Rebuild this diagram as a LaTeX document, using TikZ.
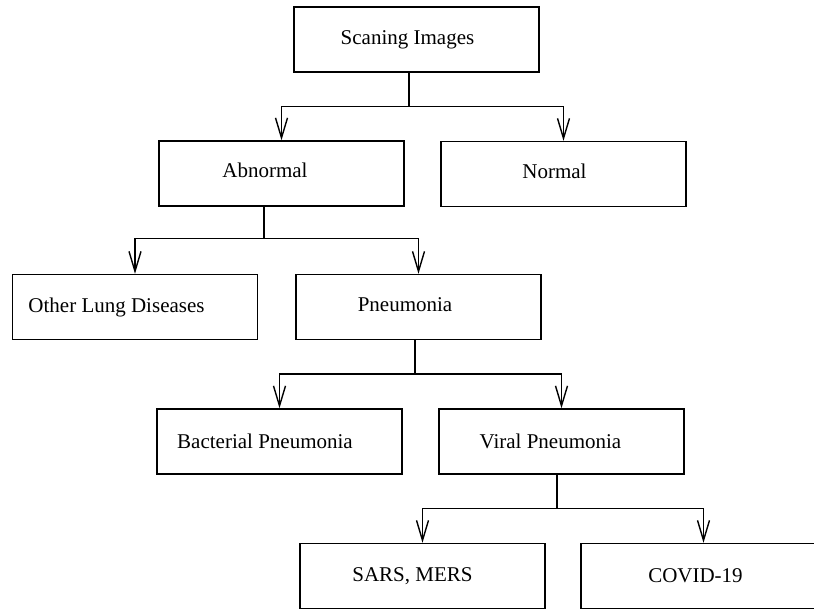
\documentclass[tikz,border=0pt]{standalone}
\usepackage{fontspec}
\setmainfont{Liberation Serif}
\usetikzlibrary{arrows.meta,positioning}

\begin{document}
\begin{tikzpicture}[x=1pt,y=-1pt,
  box/.style={draw,line width=1.4pt,minimum width=245pt,minimum height=65pt,inner sep=0pt},
  txt/.style={inner sep=0pt,font=\fontsize{21}{25}\selectfont},
  link/.style={line width=1.4pt},
  arr/.style={line width=1.4pt,-{Straight Barb[length=20pt,width=12pt]}}]
\useasboundingbox (0,0) rectangle (814,609);
% boxes
\node[box] (scan) at (416.5,39.5) {};
\node[box] (abn) at (281.5,173.5) {};
\node[box] (nor) at (563.5,174) {};
\node[box] (oth) at (135,307) {};
\node[box] (pne) at (418.5,307) {};
\node[box] (bac) at (279.5,441.5) {};
\node[box] (vir) at (561.5,441.5) {};
\node[box] (sars) at (422.5,576) {};
\node[box] (cov) at (703.5,576) {};
% texts
\node[txt] (scanT) at ([xshift=-9pt]scan.center) {Scaning Images};
\node[txt] (abnT) at ([xshift=-16.5pt,yshift=3pt]abn.center) {Abnormal};
\node[txt] (norT) at ([xshift=-9pt,yshift=3pt]nor.center) {Normal};
\node[txt] (othT) at ([xshift=-18.5pt]oth.center) {Other Lung Diseases};
\node[txt] (pneT) at ([xshift=-13.5pt,yshift=2pt]pne.center) {Pneumonia};
\node[txt] (bacT) at ([xshift=-14.5pt]bac.center) {Bacterial Pneumonia};
\node[txt] (virT) at ([xshift=-11pt]vir.center) {Viral Pneumonia};
\node[txt] (sarsT) at ([xshift=-10pt]sars.center) {SARS, MERS};
\node[txt] (covT) at ([xshift=-8pt]cov.center) {COVID-19};
% trunks
\draw[link] ([xshift=-7.5pt]scan.south) -- ++(0,34) coordinate (scanbar);
\draw[link] ([xshift=-17.5pt]abn.south) -- ++(0,32) coordinate (abnbar);
\draw[link] ([xshift=-3.5pt]pne.south) -- ++(0,34) coordinate (pnebar);
\draw[link] ([xshift=-4.5pt]vir.south) -- ++(0,34) coordinate (virbar);
% branches
\foreach \p/\c in {scanbar/abn,scanbar/nor,abnbar/oth,abnbar/pne,pnebar/bac,pnebar/vir,virbar/sars,virbar/cov}{\draw[arr] (\p) -| (\c.north);}
\end{tikzpicture}
\end{document}
